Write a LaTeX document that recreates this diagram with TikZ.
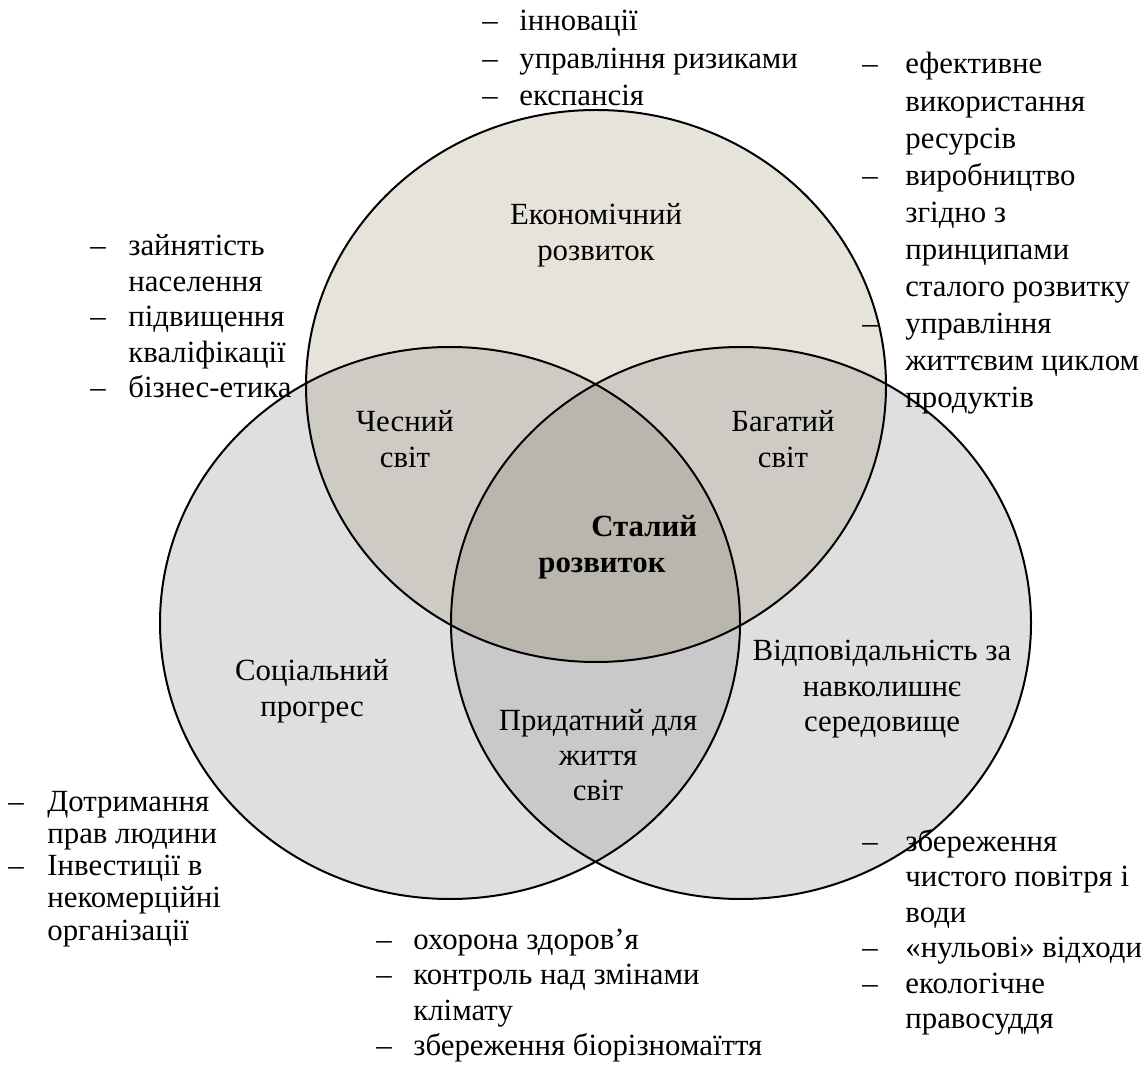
\documentclass[tikz,border=0pt]{standalone}
\usepackage{fontspec}
\setmainfont{Liberation Serif}
\usepackage{array}

% fills of the single areas and of their overlaps
\definecolor{econfill}{RGB}{230,228,218}
\definecolor{lowfill}{RGB}{223,223,223}
\definecolor{pairfill}{RGB}{206,203,196}
\definecolor{basefill}{RGB}{202,200,201}
\definecolor{corefill}{RGB}{185,182,174}

\begin{document}
\begin{tikzpicture}[x=0.5pt,y=-0.5pt,
  font=\fontsize{15.4pt}{17.75pt}\selectfont,
  listtext/.style={anchor=base west, inner sep=0pt},
  areatext/.style={anchor=base, inner sep=0pt},
  rim/.style={draw=black, line width=1pt},
  oval/.style={x radius=145pt, y radius=138pt}]

\useasboundingbox (0,0) rectangle (1146,1074);

% centres of the three ellipses
\coordinate (cE) at (596,386);
\coordinate (cS) at (450,623);
\coordinate (cN) at (741,623);

% single areas
\fill[lowfill] (cS) ellipse [oval];
\fill[lowfill] (cN) ellipse [oval];
\begin{scope}
  \clip (cS) ellipse [oval];
  \fill[basefill] (cN) ellipse [oval];
\end{scope}
\fill[econfill] (cE) ellipse [oval];
% overlaps with the economic ellipse
\begin{scope}
  \clip (cE) ellipse [oval];
  \fill[pairfill] (cS) ellipse [oval];
  \fill[pairfill] (cN) ellipse [oval];
  \clip (cS) ellipse [oval];
  \fill[corefill] (cN) ellipse [oval];
\end{scope}
% outlines
\draw[rim] (cE) ellipse [oval];
\draw[rim] (cS) ellipse [oval];
\draw[rim] (cN) ellipse [oval];

% labels inside the areas
\node[areatext] (econ) at (596,225)
  {\begin{tabular}[t]{@{}c@{}}Економічний\\розвиток\end{tabular}};
\node[areatext] (fair) at (405,432)
  {\begin{tabular}[t]{@{}c@{}}Чесний\\світ\end{tabular}};
\node[areatext] (rich) at (783,432)
  {\begin{tabular}[t]{@{}c@{}}Багатий\\світ\end{tabular}};
\node[listtext] (core) at (538,537)
  {\bfseries\begin{tabular}[t]{@{}l@{}}\hspace*{26.5pt}Сталий\\розвиток\end{tabular}};
\node[areatext] (social) at (312,681)
  {\begin{tabular}[t]{@{}c@{}}Соціальний\\прогрес\end{tabular}};
\node[areatext] (env) at (882,661)
  {\begin{tabular}[t]{@{}c@{}}Відповідальність за\\навколишнє\\середовище\end{tabular}};
\node[areatext] (livable) at (598,730)
  {\begin{tabular}[t]{@{}c@{}}Придатний для\\життя\\світ\end{tabular}};

% lists of goals around the diagram
\node[listtext] (econlist) at (482,31)
  {\renewcommand\arraystretch{1.05}%
   \begin{tabular}[t]{@{}p{18.5pt}@{}l@{}}
   – & інновації\\
   – & управління ризиками\\
   – & експансія
  \end{tabular}};
\node[listtext] (reslist) at (862,74)
  {\renewcommand\arraystretch{1.045}%
   \begin{tabular}[t]{@{}p{21.5pt}@{}l@{}}
   – & ефективне\\
     & використання\\
     & ресурсів\\
   – & виробництво\\
     & згідно з\\
     & принципами\\
     & сталого розвитку\\
   – & управління\\
     & життєвим циклом\\
     & продуктів
  \end{tabular}};
\node[listtext] (worklist) at (90,256)
  {\begin{tabular}[t]{@{}p{19pt}@{}l@{}}
   – & зайнятість\\
     & населення\\
   – & підвищення\\
     & кваліфікації\\
   – & бізнес-етика
  \end{tabular}};
\node[listtext] (rightslist) at (8,811)
  {\renewcommand\arraystretch{0.91}%
   \begin{tabular}[t]{@{}p{19.5pt}@{}l@{}}
   – & Дотримання\\
     & прав людини\\
   – & Інвестиції в\\
     & некомерційні\\
     & організації
  \end{tabular}};
\node[listtext] (lifelist) at (376,949)
  {\begin{tabular}[t]{@{}p{18.5pt}@{}l@{}}
   – & охорона здоров’я\\
   – & контроль над змінами\\
     & клімату\\
   – & збереження біорізномаїття
  \end{tabular}};
\node[listtext] (greenlist) at (862,851)
  {\begin{tabular}[t]{@{}p{21.5pt}@{}l@{}}
   – & збереження\\
     & чистого повітря і\\
     & води\\
   – & «нульові» відходи\\
   – & екологічне\\
     & правосуддя
  \end{tabular}};
\end{tikzpicture}
\end{document}
